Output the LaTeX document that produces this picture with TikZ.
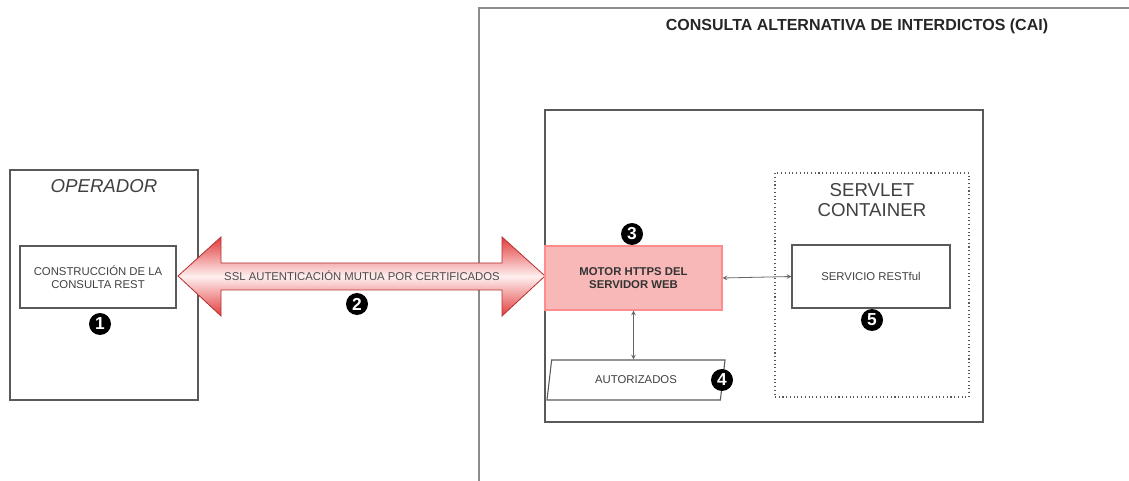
\documentclass[tikz,border=0pt]{standalone}
\usepackage{fontspec}
\setmainfont{Liberation Sans}
\usetikzlibrary{shapes,arrows,positioning}
\definecolor{flecha}{RGB}{226,60,60}
\definecolor{motor}{RGB}{248,184,184}
\tikzset{
  box/.style={draw=black!65, line width=0.8pt, rectangle, align=center, text=black!75, font=\fontsize{8.5}{10}\selectfont, inner sep=0pt},
  badge/.style={circle, fill=black, text=white, font=\fontsize{13}{13}\selectfont\bfseries, inner sep=0pt, minimum size=16.5pt},
  link/.style={<->, >=stealth, black!60, line width=0.6pt},
  caption/.style={font=\fontsize{14}{15}\selectfont, text=black!75, align=center},
}

\begin{document}
\begin{tikzpicture}[x=0.75pt,y=-0.75pt]
    \useasboundingbox (0,0) rectangle (1129,481);

    % sistema CAI
    \draw[black!45, line width=1.5pt] (479,481) -- (479,8) -- (1129,8);
    \node[font=\fontsize{12}{14}\selectfont\bfseries, text=black!85] (cai) at (857,26) {CONSULTA ALTERNATIVA DE INTERDICTOS (CAI)};
    \node[box, line width=1pt, minimum width=328.5pt, minimum height=234pt] (server) at (764,266) {};

    % operador
    \node[box, minimum width=141pt, minimum height=172.5pt] (op) at (104,285) {};
    \node[caption, font=\fontsize{14}{15}\selectfont\itshape] (optitle) at (104,186) {OPERADOR};
    \node[box, minimum width=117pt, minimum height=46.5pt] (rest) at (98,277) {CONSTRUCCIÓN DE LA\\CONSULTA REST};
    \node[badge] (n1) at (100,324) {1};

    % canal SSL
    \draw[flecha!80!black, line width=0.6pt, top color=flecha, bottom color=flecha, middle color=red!6]
        (178,276) -- (221,237) -- (221,263) -- (502,263) -- (502,237) -- (545,276)
        -- (502,316) -- (502,290) -- (221,290) -- (221,316) -- cycle;
    \node[text=black!70, font=\fontsize{8.5}{10}\selectfont] (ssl) at (362,276) {SSL AUTENTICACIÓN MUTUA POR CERTIFICADOS};
    \node[badge] (n2) at (357,304) {2};

    % motor https
    \node[box, draw=red!45, fill=motor, text=black!80, font=\fontsize{8.5}{10}\selectfont\bfseries, minimum width=132.75pt, minimum height=48pt] (motor) at (633.5,278) {MOTOR HTTPS DEL\\SERVIDOR WEB};
    \node[badge] (n3) at (632,234) {3};

    % contenedor de servlets
    \node[box, dotted, line width=1pt, minimum width=145.5pt, minimum height=168pt] (servlet) at (872,285) {};
    \node[caption] (sctitle) at (872,200) {SERVLET\\CONTAINER};
    \node[box, minimum width=118.5pt, minimum height=47.25pt] (servicio) at (871,276.5) {SERVICIO RESTful};
    \node[badge] (n5) at (872,320) {5};

    % autorizados
    \node[box, trapezium, trapezium left angle=60, trapezium right angle=120, trapezium stretches body,
          minimum width=133.5pt, minimum height=30pt] (autz) at (636,380) {AUTORIZADOS};
    \node[badge] (n4) at (722,380) {4};

    \draw[link] (motor.east) -- (servicio.west);
    \draw[link] (motor.south) -- (motor.south |- autz.north);
\end{tikzpicture}
\end{document}
